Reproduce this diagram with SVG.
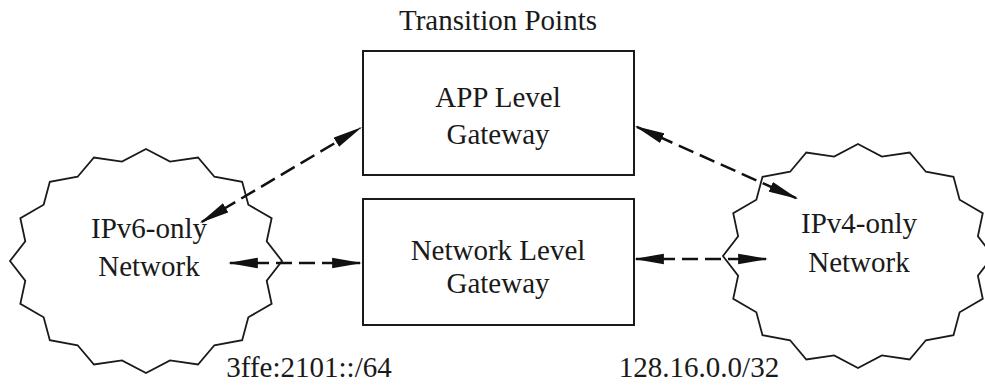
<svg xmlns="http://www.w3.org/2000/svg" width="985" height="385" viewBox="0 0 985 385">
  <style>
    .lbl { font-family: "Liberation Serif", "Times New Roman", serif; font-size: 29px; fill: #1a1a1a; text-anchor: middle; }
    .box { fill: #ffffff; stroke: #1a1a1a; stroke-width: 2; }
    .cloud { fill: #ffffff; stroke: #1a1a1a; stroke-width: 1.8; stroke-linejoin: miter; }
    .conn { fill: none; stroke: #111; stroke-width: 2.5; stroke-dasharray: 16 7; marker-start: url(#ah); marker-end: url(#ah); }
  </style>
  <defs>
    <marker id="ah" markerUnits="userSpaceOnUse" markerWidth="30" markerHeight="12" refX="26" refY="5" orient="auto-start-reverse" viewBox="0 0 28 10">
      <path d="M0,0 L28,5 L0,10 Z" fill="#111"/>
    </marker>
    <polygon id="cloudShape" points="0,-112 24.01,-99.41 52.04,-103.47 68.38,-84.28 96.17,-79.2 102.34,-56.31 125.65,-42.86 120.71,-19.77 136,0 120.71,19.77 125.65,42.86 102.34,56.31 96.17,79.2 68.38,84.28 52.04,103.47 24.01,99.41 0,112 -24.01,99.41 -52.04,103.47 -68.38,84.28 -96.17,79.2 -102.34,56.31 -125.65,42.86 -120.71,19.77 -136,0 -120.71,-19.77 -125.65,-42.86 -102.34,-56.31 -96.17,-79.2 -68.38,-84.28 -52.04,-103.47 -24.01,-99.41"/>
  </defs>

  <text class="lbl" x="498" y="30">Transition Points</text>

  <g id="ipv6-network">
    <use href="#cloudShape" class="cloud" transform="translate(146,261)"/>
    <text class="lbl" x="149" y="238">IPv6-only</text>
    <text class="lbl" x="149" y="276">Network</text>
    <text class="lbl" x="309" y="377">3ffe:2101::/64</text>
  </g>

  <g id="ipv4-network">
    <use href="#cloudShape" class="cloud" transform="translate(858,256) scale(0.993,1)"/>
    <text class="lbl" x="859" y="233">IPv4-only</text>
    <text class="lbl" x="859" y="272">Network</text>
    <text class="lbl" x="699" y="377">128.16.0.0/32</text>
  </g>

  <g id="app-gateway">
    <rect class="box" x="363" y="51" width="271" height="124"/>
    <text class="lbl" x="498" y="107">APP Level</text>
    <text class="lbl" x="498" y="144">Gateway</text>
  </g>

  <g id="network-gateway">
    <rect class="box" x="363" y="199" width="271" height="126"/>
    <text class="lbl" x="498" y="260">Network Level</text>
    <text class="lbl" x="498" y="293">Gateway</text>
  </g>

  <g id="connectors">
    <line class="conn" x1="201.7" y1="222" x2="360.3" y2="128"/>
    <line class="conn" x1="636.8" y1="126.8" x2="796.2" y2="198.2"/>
    <line class="conn" x1="230" y1="263" x2="360" y2="263"/>
    <line class="conn" x1="636" y1="259" x2="766" y2="259"/>
  </g>
</svg>
